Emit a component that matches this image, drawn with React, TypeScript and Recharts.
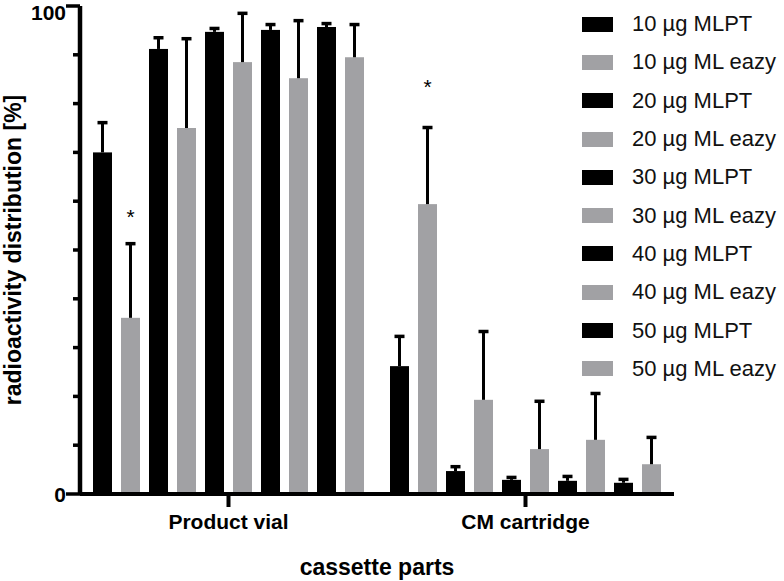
import { Bar, BarChart, Label, XAxis, YAxis } from "recharts";

const parts = ["Product vial", "CM cartridge"];
const doses = ["10", "20", "30", "40", "50"];

// mean values per part (Product vial, CM cartridge)
const mlpt10 = [70.0, 26.2];
const eazy10 = [36.1, 59.4];
const mlpt20 = [91.2, 4.7];
const eazy20 = [75.0, 19.3];
const mlpt30 = [94.7, 2.9];
const eazy30 = [88.5, 9.2];
const mlpt40 = [95.1, 2.7];
const eazy40 = [85.2, 11.1];
const mlpt50 = [95.7, 2.3];
const eazy50 = [89.5, 6.1];

// upper error (SD)
const mlpt10Err = [6.2, 6.2];
const eazy10Err = [15.3, 15.8];
const mlpt20Err = [2.4, 1.0];
const eazy20Err = [18.4, 14.1];
const mlpt30Err = [0.8, 0.6];
const eazy30Err = [10.1, 9.9];
const mlpt40Err = [1.2, 1.0];
const eazy40Err = [11.9, 9.6];
const mlpt50Err = [0.8, 0.8];
const eazy50Err = [6.8, 5.6];

// significance marker height over 10 µg ML eazy
const eazy10Star = [57.8, 84.4];

const yTicks = [0, 10, 20, 30, 40, 50, 60, 70, 80, 90, 100];

const BLACK = "#000000";
const GREY = "#a1a1a4";
const FONT = "'Liberation Sans', Arial, Helvetica, sans-serif";

const means = [mlpt10, eazy10, mlpt20, eazy20, mlpt30, eazy30, mlpt40, eazy40, mlpt50, eazy50];
const errs = [mlpt10Err, eazy10Err, mlpt20Err, eazy20Err, mlpt30Err, eazy30Err, mlpt40Err, eazy40Err, mlpt50Err, eazy50Err];

const series = doses.flatMap((d, i) => [
  { key: `mlpt${d}`, name: `${d} µg MLPT`, color: BLACK, idx: i * 2 },
  { key: `eazy${d}`, name: `${d} µg ML eazy`, color: GREY, idx: i * 2 + 1 },
]);

const data = parts.map((part, p) => {
  const row: Record<string, any> = { part, star: eazy10Star[p] };
  series.forEach((s) => {
    row[s.key] = means[s.idx][p];
    row[s.key + "Err"] = errs[s.idx][p];
  });
  return row;
});

const makeShape = (key: string, color: string, withStar: boolean) => (props: any) => {
  const { x, y, width, height, payload } = props;
  const val = payload[key];
  const ppu = height / val;
  const base = y + height;
  const cx = x + width / 2;
  const yErr = base - (val + payload[key + "Err"]) * ppu;
  return (
    <g>
      <rect x={x} y={y} width={width} height={height} fill={color} />
      <line x1={cx} x2={cx} y1={y} y2={yErr} stroke="#000" strokeWidth={3} />
      <line x1={cx - 5} x2={cx + 5} y1={yErr + 0.5} y2={yErr + 0.5} stroke="#000" strokeWidth={3.5} />
      {withStar && (
        <text x={cx} y={base - payload.star * ppu + 12} textAnchor="middle" fontSize={21} fontFamily={FONT} fill="#000">
          *
        </text>
      )}
    </g>
  );
};

const YTick = (props: any) => {
  const { x, y, payload } = props;
  const major = payload.value === 0 || payload.value === 100;
  return (
    <g>
      <line x1={x - (major ? 14 : 7)} x2={x} y1={y} y2={y} stroke="#000" strokeWidth={3.5} />
      {major && (
        <text
          x={x - 14}
          y={y + (payload.value === 100 ? 14 : 8)}
          textAnchor="end"
          fontSize={21}
          fontWeight="bold"
          fontFamily={FONT}
          fill="#000"
        >
          {payload.value}
        </text>
      )}
    </g>
  );
};

const XTick = (props: any) => {
  const { x, y, payload } = props;
  return (
    <g>
      <line x1={x} x2={x} y1={y} y2={y + 13} stroke="#000" strokeWidth={4} />
      <text x={x} y={y + 35} textAnchor="middle" fontSize={21} fontWeight="bold" fontFamily={FONT} fill="#000">
        {payload.value}
      </text>
    </g>
  );
};

const yLabel = (props: any) => {
  const { viewBox } = props;
  const cy = viewBox.y + viewBox.height / 2;
  return (
    <text
      x={13}
      y={cy}
      transform={`rotate(-90, 13, ${cy})`}
      textAnchor="middle"
      dominantBaseline="central"
      fontSize={23}
      fontWeight="bold"
      fontFamily={FONT}
      fill="#000"
    >
      radioactivity distribution [%]
    </text>
  );
};

const xLabel = (props: any) => {
  const { viewBox } = props;
  return (
    <text
      x={viewBox.x + viewBox.width / 2}
      y={viewBox.y + 81}
      textAnchor="middle"
      fontSize={23}
      fontWeight="bold"
      fontFamily={FONT}
      fill="#000"
    >
      cassette parts
    </text>
  );
};

export default function App() {
  return (
    <div style={{ position: "absolute", left: 0, top: 0, width: 784, height: 581, background: "#fff" }}>
      <BarChart
        width={784}
        height={581}
        data={data}
        margin={{ top: 6, right: 110, bottom: 0, left: 0 }}
        barCategoryGap={13}
        barGap={9}
      >
        <XAxis
          dataKey="part"
          height={87}
          axisLine={{ stroke: "#000", strokeWidth: 4 }}
          tickLine={false}
          tickSize={0}
          tickMargin={0}
          tick={<XTick />}
        >
          <Label content={xLabel} />
        </XAxis>
        <YAxis
          width={80}
          domain={[0, 100]}
          ticks={yTicks}
          interval={0}
          axisLine={{ stroke: "#000", strokeWidth: 4.5 }}
          tickLine={false}
          tickSize={0}
          tickMargin={0}
          tick={<YTick />}
        >
          <Label content={yLabel} />
        </YAxis>
        {series.map((s) => (
          <Bar
            key={s.key}
            dataKey={s.key}
            name={s.name}
            fill={s.color}
            isAnimationActive={false}
            shape={makeShape(s.key, s.color, s.key === "eazy10")}
          />
        ))}
      </BarChart>
      <div style={{ position: "absolute", left: 582, top: 5, fontFamily: FONT }}>
        {series.map((s) => (
          <div key={s.key} style={{ display: "flex", alignItems: "center", height: 38.3, whiteSpace: "nowrap" }}>
            <span style={{ display: "inline-block", width: 31, height: 15, background: s.color }} />
            <span style={{ marginLeft: 19, fontSize: 22, color: "#111" }}>{s.name}</span>
          </div>
        ))}
      </div>
    </div>
  );
}
